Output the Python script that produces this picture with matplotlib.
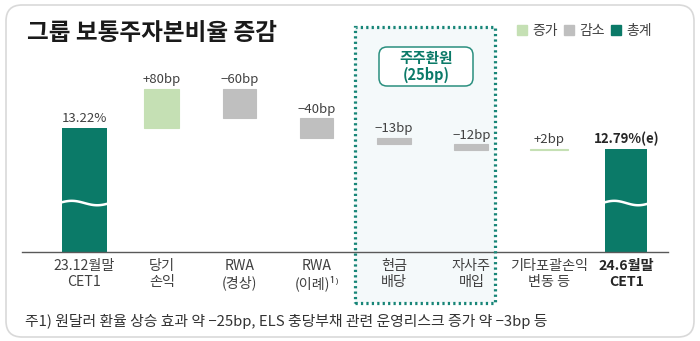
import numpy as np
import matplotlib
matplotlib.use("Agg")
import matplotlib.pyplot as plt
from matplotlib.patches import Rectangle, FancyBboxPatch, Patch
from matplotlib.transforms import blended_transform_factory

plt.rcParams['font.family'] = ['Noto Sans CJK KR', 'DejaVu Sans']

# 보통주자본비율 워터폴 데이터
start_ratio = 13.22
changes_bp = [80, -60, -40, -13, -12, 2]
change_labels = ["+80bp", "−60bp", "−40bp", "−13bp", "−12bp", "+2bp"]
total_labels = ["13.22%", "12.79%(e)"]
categories = ["23.12월말\nCET1", "당기\n손익", "RWA\n(경상)", "RWA\n(이례)¹⁾",
              "현금\n배당", "자사주\n매입", "기타포괄손익\n변동 등", "24.6월말\nCET1"]

TEAL = "#0b7a68"
GREEN = "#c5e0b4"
GRAY = "#bfbfbf"
TXT = "#404040"

fig = plt.figure(figsize=(7, 3.41), dpi=100)
W, H = 700, 341

# 바깥 둥근 테두리
frame = FancyBboxPatch((6, 4), 688, 332, boxstyle="round,pad=0,rounding_size=16",
                       transform=None, facecolor="white", edgecolor="#d9d9d9", lw=1.2,
                       zorder=-5)
fig.patches.append(frame)

ax = fig.add_axes([22 / W, (H - 252) / H, 646 / W, 212 / H])
ax.patch.set_visible(False)
ax.set_xlim(-0.807, 7.54)
ax.set_ylim(10.69, 15.02)

# 주주환원 구간 박스
bt = blended_transform_factory(ax.transData, fig.transFigure)
ax.add_patch(Rectangle((3.5, (H - 303) / H), 1.805, 276 / H, transform=bt,
                       facecolor="#f4f9fa", edgecolor="none", clip_on=False, zorder=0))
ax.add_patch(Rectangle((3.5, (H - 303) / H), 1.805, 276 / H, transform=bt,
                       facecolor="none", edgecolor="#178577", lw=2.3,
                       linestyle=(0, (0.7, 1.0)), clip_on=False, zorder=4))

x = np.arange(len(categories))
levels = start_ratio + np.concatenate([[0], np.cumsum(changes_bp) / 100.0])
end_ratio = levels[-1]

# 총계 막대
bottom = ax.get_ylim()[0]
for xi, val, lab, bold in [(x[0], start_ratio, total_labels[0], False),
                           (x[-1], end_ratio, total_labels[1], True)]:
    w = 0.58 if xi == 0 else 0.54
    ax.bar(xi, val - bottom, bottom=bottom, width=w, color=TEAL, zorder=2)
    t = np.linspace(0, 1, 60)
    wx = xi - w / 2 - 0.04 + t * (w + 0.08)
    wy = 11.69 + 0.045 * np.sin(2 * np.pi * t)
    ax.plot(wx, wy, color="white", lw=1.8, zorder=3, solid_capstyle="round")
    ax.annotate(lab, (xi, val), xytext=(0, 2), textcoords="offset points",
                ha="center", va="bottom", fontsize=9.5, color="#262626" if bold else TXT,
                fontweight="bold" if bold else "normal")

# 증감 막대
widths = [0.45, 0.43, 0.42, 0.44, 0.44, 0.49]
for i, (d, lab) in enumerate(zip(changes_bp, change_labels)):
    xi = x[i + 1]
    lo, hi = sorted([levels[i], levels[i + 1]])
    col = GREEN if d > 0 else GRAY
    ax.bar(xi, hi - lo, bottom=lo, width=widths[i], color=col, edgecolor=col,
           lw=0.8, zorder=2)
    ax.annotate(lab, (xi, hi), xytext=(0, 2), textcoords="offset points",
                ha="center", va="bottom", fontsize=9.5, color=TXT)

ax.set_xticks(x)
ax.set_xticklabels(categories, fontsize=10.2, color=TXT, linespacing=1.2)
ax.get_xticklabels()[-1].set_fontweight("bold")
ax.get_xticklabels()[-1].set_color("#262626")
ax.tick_params(axis="x", length=0, pad=5)
ax.set_yticks([])
for s in ["top", "left", "right"]:
    ax.spines[s].set_visible(False)
ax.spines["bottom"].set_color("#595959")
ax.spines["bottom"].set_linewidth(1)

# 주주환원 라벨
ax.add_patch(FancyBboxPatch((379, H - 86), 94, 39, boxstyle="round,pad=0,rounding_size=8",
                            transform=None, facecolor="white", edgecolor="#2a8f7f",
                            lw=1.1, clip_on=False, zorder=5))
ax.text(426, H - 66.5, "주주환원\n(25bp)", transform=None, ha="center", va="center",
        fontsize=10.5, fontweight="bold", color=TEAL, linespacing=1.05, zorder=6)

# 범례
handles = [Patch(color=GREEN, label="증가"), Patch(color=GRAY, label="감소"),
           Patch(color=TEAL, label="총계")]
fig.legend(handles=handles, loc="upper right", bbox_to_anchor=(664 / W, 1 - 11 / H),
           ncol=3, frameon=False, fontsize=10, handlelength=0.7, handleheight=0.7,
           handletextpad=0.35, columnspacing=0.5, labelcolor=TXT)

fig.text(27 / W, 1 - 33 / H, "그룹 보통주자본비율 증감", fontsize=17, fontweight="bold",
         color="#1a1a1a", va="center")
fig.text(25 / W, 1 - 321 / H,
         "주1) 원달러 환율 상승 효과 약 −25bp, ELS 충당부채 관련 운영리스크 증가 약 −3bp 등",
         fontsize=10.7, color="#333333", va="center")

fig.savefig("out.png", dpi=100)
